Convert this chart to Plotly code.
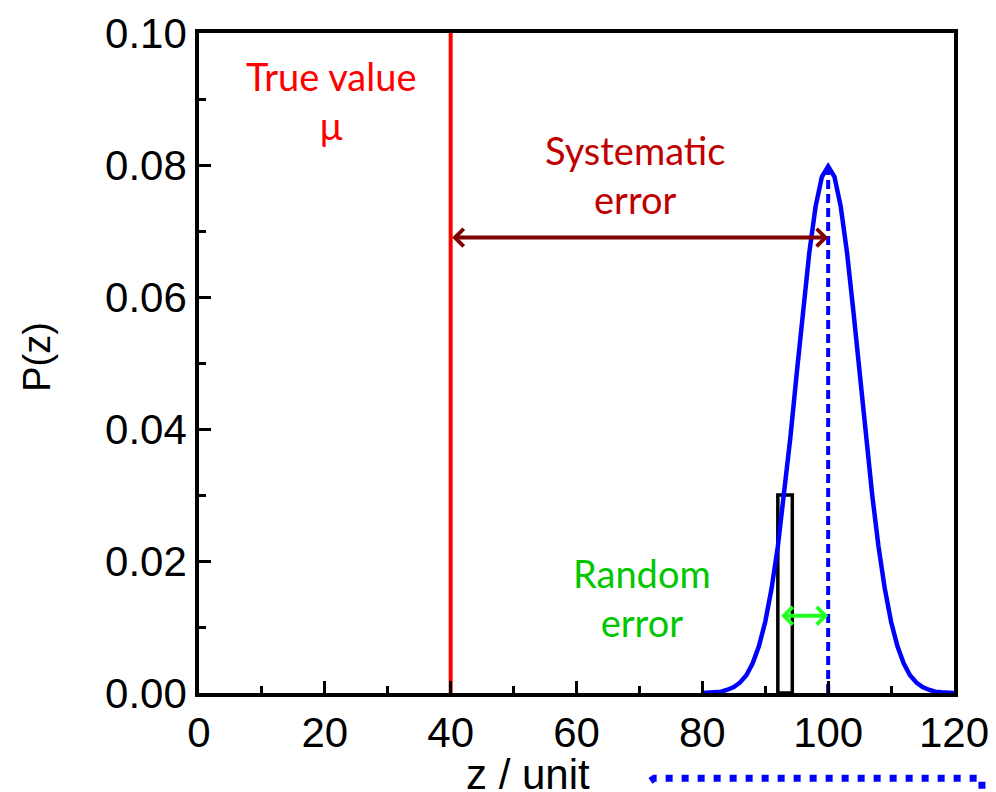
import plotly.graph_objects as go

# Measured distribution P(z) read along z
z_curve = list(range(80, 121))
p_curve = [0.0000, 0.0001, 0.0001, 0.0002, 0.0005, 0.0009, 0.0016, 0.0027,
           0.0045, 0.0071, 0.0108, 0.0158, 0.0222, 0.0300, 0.0388, 0.0484,
           0.0579, 0.0667, 0.0737, 0.0782, 0.0798, 0.0782, 0.0737, 0.0667,
           0.0579, 0.0484, 0.0388, 0.0300, 0.0222, 0.0158, 0.0108, 0.0071,
           0.0045, 0.0027, 0.0016, 0.0009, 0.0005, 0.0002, 0.0001, 0.0001,
           0.0000]

true_value = 40          # mu
measured_mean = 100      # centre of the distribution
peak_height = 0.0798

# single sample bin
sample_left, sample_right, sample_height = 92.0, 94.3, 0.03

# error arrows
sys_arrow_y = 0.069
rand_arrow_from, rand_arrow_y = 92.3, 0.0117

x_ticks = [0, 20, 40, 60, 80, 100, 120]
y_ticks = [0.00, 0.02, 0.04, 0.06, 0.08, 0.10]

TICK_FONT = dict(family="Liberation Sans, Arial, sans-serif", size=42, color="black")
NOTE_FONT = "Lato, Carlito, Calibri, sans-serif"

fig = go.Figure()

# sample bin outline
fig.add_trace(go.Bar(
    x=[(sample_left + sample_right) / 2], y=[sample_height],
    width=[sample_right - sample_left],
    marker=dict(color="rgba(0,0,0,0)", line=dict(color="black", width=3.5)),
    showlegend=False, hoverinfo="skip"))

# true value line
fig.add_trace(go.Scatter(
    x=[true_value, true_value], y=[0, 0.1], mode="lines",
    line=dict(color="#FF0000", width=4), showlegend=False))

# mean of the measurements
fig.add_trace(go.Scatter(
    x=[measured_mean, measured_mean], y=[0, peak_height], mode="lines",
    line=dict(color="#0000FF", width=4, dash="9px,5px"), showlegend=False))

# distribution curve
fig.add_trace(go.Scatter(
    x=z_curve, y=p_curve, mode="lines",
    line=dict(color="#0000FF", width=4.5),
    showlegend=False))

annotations = [
    # systematic error arrow
    dict(x=measured_mean, y=sys_arrow_y, ax=true_value, ay=sys_arrow_y,
         xref="x", yref="y", axref="x", ayref="y", text="",
         showarrow=True, arrowside="end+start", arrowhead=4, startarrowhead=4,
         arrowsize=0.85, startarrowsize=0.85, arrowwidth=4, arrowcolor="#800000",
         standoff=0, startstandoff=0),
    # random error arrow
    dict(x=measured_mean, y=rand_arrow_y, ax=rand_arrow_from, ay=rand_arrow_y,
         xref="x", yref="y", axref="x", ayref="y", text="",
         showarrow=True, arrowside="end+start", arrowhead=4, startarrowhead=4,
         arrowsize=0.85, startarrowsize=0.85, arrowwidth=4, arrowcolor="#22FF22",
         standoff=0, startstandoff=0),
    dict(x=20.9, y=0.0898, xref="x", yref="y", showarrow=False,
         text="True value<br>μ", align="center",
         font=dict(family=NOTE_FONT, size=38, color="#FF0000")),
    dict(x=69.3, y=0.0785, xref="x", yref="y", showarrow=False,
         text="Systematic<br>error", align="center",
         font=dict(family=NOTE_FONT, size=38, color="#C00000")),
    dict(x=70.4, y=0.0144, xref="x", yref="y", showarrow=False,
         text="Random<br>error", align="center",
         font=dict(family=NOTE_FONT, size=38, color="#00C800")),
    # axis titles
    dict(x=0.436, y=-0.124, xref="paper", yref="paper", showarrow=False,
         text="z / unit", yanchor="middle", xanchor="center",
         font=dict(family="Liberation Sans, Arial, sans-serif", size=42, color="black")),
    dict(x=-0.215, y=0.509, xref="paper", yref="paper", showarrow=False,
         text="P(z)", textangle=-90, xanchor="center", yanchor="middle",
         font=dict(family="Liberation Sans, Arial, sans-serif", size=38, color="black")),
]

shapes = [
    dict(type="path", xref="paper", yref="paper",
         path="M 0.598,-0.133 L 0.603,-0.129 L 1.037,-0.129 L 1.037,-0.2",
         line=dict(color="#0000FF", width=7, dash="7px,9px")),
]

axis_common = dict(
    ticks="inside", ticklen=12, tickwidth=3, tickcolor="black",
    showline=True, linecolor="black", linewidth=3.5, mirror=True,
    showgrid=False, zeroline=False, tickfont=TICK_FONT, automargin=False,
)

fig.update_layout(
    width=996, height=792,
    margin=dict(l=199, r=42, t=33, b=99),
    paper_bgcolor="white", plot_bgcolor="white",
    showlegend=False,
    annotations=annotations, shapes=shapes,
    xaxis=dict(range=[0, 120], tickvals=x_ticks, ticktext=[str(v) for v in x_ticks],
               minor=dict(dtick=10, ticks="inside", ticklen=7, tickwidth=3, tickcolor="black"),
               **axis_common),
    yaxis=dict(range=[0, 0.1], tickvals=y_ticks, ticktext=[f"{v:.2f}" for v in y_ticks],
               minor=dict(dtick=0.01, ticks="inside", ticklen=7, tickwidth=3, tickcolor="black"),
               **axis_common),
)

fig.write_html("out.html")
